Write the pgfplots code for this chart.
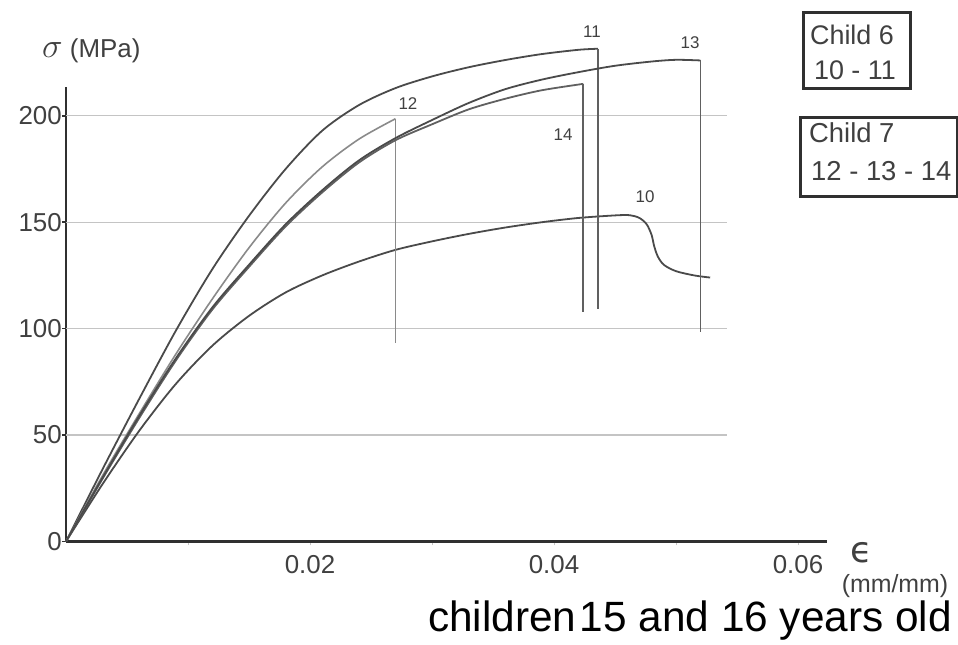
\documentclass[border=0pt]{standalone}
\usepackage{graphicx}
\usepackage{pgfplots}
\pgfplotsset{compat=1.18}
\usepackage{fontspec}
\setmainfont{Liberation Sans}
\newfontfamily\djv{DejaVu Sans}
\definecolor{axc}{HTML}{303030}
\definecolor{cdark}{HTML}{4A4A4A}
\definecolor{cmid}{HTML}{606060}
\definecolor{clight}{HTML}{8A8A8A}
\definecolor{gridc}{HTML}{C4C4C4}
\definecolor{txt}{HTML}{404040}
\begin{document}
\begin{tikzpicture}[x=1bp,y=1bp]
\path[use as bounding box] (0,0) rectangle (958,645);
\begin{axis}[
  at={(66bp,103.5bp)}, anchor=south west,
  scale only axis, width=761bp, height=454bp,
  xmin=0, xmax=0.062377, ymin=0, ymax=213.3,
  clip=false,
  axis x line=bottom, axis y line=left,
  axis line style={-, line width=2.5bp, draw=axc},
  xtick={0.01,0.02,0.03,0.04,0.05,0.06},
  xticklabels={,0.02,,0.04,,0.06},
  scaled x ticks=false,
  ytick={0,50,100,150,200},
  tick align=outside,
  major tick length=4bp,
  xtick style={draw=gridc, line width=1bp},
  ytick style={draw=axc, line width=1.5bp},
  /pgf/number format/assume math mode=true,
  ticklabel style={font=\fontsize{26}{31}\selectfont, text=txt},
  xticklabel style={yshift=-6bp},
  yticklabel style={inner sep=1bp, xshift=1bp},
]
% grid lines
\addplot[gridc, line width=1.4bp] coordinates {(0,50) (0.05418,50)};
\addplot[gridc, line width=1.4bp] coordinates {(0,100) (0.05418,100)};
\addplot[gridc, line width=1.4bp] coordinates {(0,150) (0.05418,150)};
\addplot[gridc, line width=1.4bp] coordinates {(0,200) (0.05418,200)};
% curve 10
\addplot[cdark, line width=1.8bp, smooth, tension=0.5] coordinates {
(0,0) (0.003,27) (0.006,52) (0.009,74) (0.012,92) (0.015,106) (0.018,117) (0.021,125) (0.024,131.5) (0.027,137) (0.030,141) (0.033,144.5) (0.036,147.5) (0.039,150) (0.042,152) (0.045,153.2) (0.0462,153.3) (0.0470,152) (0.0476,149) (0.0480,144) (0.0482,139) (0.0485,134) (0.0490,130) (0.0500,127) (0.0515,125) (0.0528,124)};
% curve 11
\addplot[cdark, line width=1.8bp, smooth, tension=0.5] coordinates {
(0,0) (0.003,34) (0.006,67) (0.009,99) (0.012,128) (0.015,153) (0.018,175) (0.021,193) (0.024,205) (0.027,213) (0.030,218.5) (0.033,222.8) (0.036,226.2) (0.039,229) (0.042,231) (0.0436,231.5)};
\addplot[cmid, line width=1.8bp] coordinates {(0.0436,231.5) (0.0436,109)};
% curve 12
\addplot[clight, line width=1.6bp, smooth, tension=0.5] coordinates {
(0,0) (0.003,31) (0.006,60) (0.009,88) (0.012,114) (0.015,138) (0.018,159) (0.021,176) (0.024,189) (0.0270,198.6)};
\addplot[clight, line width=1.8bp] coordinates {(0.0270,198.6) (0.0270,93.3)};
% curve 14
\addplot[cmid, line width=1.8bp, smooth, tension=0.5] coordinates {
(0,0) (0.003,29.5) (0.006,58) (0.009,85) (0.012,109) (0.015,129) (0.018,148) (0.021,164) (0.024,178) (0.027,188.5) (0.030,196) (0.033,203) (0.036,208) (0.039,212) (0.0424,215)};
\addplot[cmid, line width=1.8bp] coordinates {(0.0424,215) (0.0424,107.8)};
% curve 13
\addplot[cdark, line width=1.8bp, smooth, tension=0.5] coordinates {
(0,0) (0.003,30) (0.006,59) (0.009,86) (0.012,110) (0.015,130) (0.018,149) (0.021,165) (0.024,179) (0.027,189.5) (0.030,198) (0.033,206) (0.036,212.5) (0.039,217) (0.042,220.5) (0.045,223.5) (0.048,225.5) (0.050,226.3) (0.052,226)};
\addplot[cmid, line width=1.8bp] coordinates {(0.0520,226) (0.0520,98.4)};
% curve labels
\node[font=\fontsize{17}{20}\selectfont, text=txt] at (axis cs:0.04311,239.4) {11};
\node[font=\fontsize{17}{20}\selectfont, text=txt] at (axis cs:0.05115,234.3) {13};
\node[font=\fontsize{17}{20}\selectfont, text=txt] at (axis cs:0.02803,205.6) {12};
\node[font=\fontsize{17}{20}\selectfont, text=txt] at (axis cs:0.04074,191) {14};
\node[font=\fontsize{17}{20}\selectfont, text=txt] at (axis cs:0.04746,161.9) {10};
\end{axis}
% axis titles
\node[anchor=west, font=\fontsize{26}{30}\selectfont, text=txt, inner sep=0pt] at (42,594) {\scalebox{1.4}{$\sigma$} (MPa)};
\node[text=txt, inner sep=0pt, font=\djv\fontsize{36}{40}\selectfont] at (862,92) {ϵ};
\node[text=txt, inner sep=0pt, font=\fontsize{25}{29}\selectfont] at (895,59) {(mm/mm)};
\node[anchor=base east, inner sep=0pt, text=black, font=\fontsize{42.5}{50}\selectfont] at (952,13) {children\hspace{0.08em}15 and 16 years old};
% boxes
\draw[line width=3bp, draw=axc] (803,556) rectangle (910,632);
\node[text=txt, font=\fontsize{27}{32}\selectfont] at (852,610) {Child 6};
\node[text=txt, font=\fontsize{27}{32}\selectfont] at (855,575) {10 - 11};
\draw[line width=3bp, draw=axc] (800,448) rectangle (957,527);
\node[anchor=west, text=txt, font=\fontsize{27.5}{32}\selectfont, inner sep=0pt] at (809,512) {Child 7};
\node[anchor=west, text=txt, font=\fontsize{27.5}{32}\selectfont, inner sep=0pt] at (811,474) {12 - 13 - 14};
\end{tikzpicture}
\end{document}
